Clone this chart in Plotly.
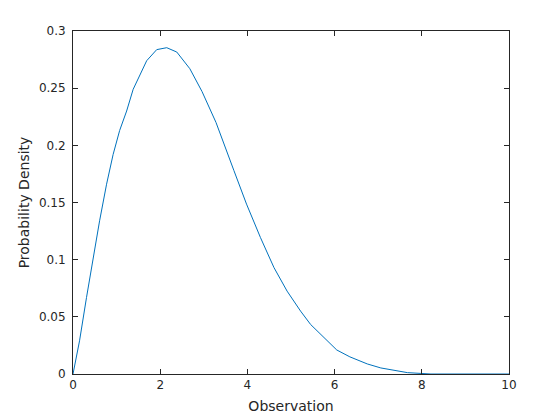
import plotly.graph_objects as go

obs = [0.0, 0.15, 0.31, 0.46, 0.61, 0.77, 0.92, 1.07, 1.23, 1.38, 1.69, 1.92, 2.15, 2.38,
       2.68, 2.96, 3.28, 3.69, 3.98, 4.30, 4.61, 4.91, 5.22, 5.45, 5.83, 6.05, 6.35,
       6.75, 7.06, 7.36, 7.67, 7.98, 8.21, 10.0]
density = [0.0, 0.029, 0.067, 0.102, 0.134, 0.166, 0.192, 0.213, 0.230, 0.249, 0.274, 0.2837,
           0.2854, 0.2816, 0.267, 0.247, 0.220, 0.178, 0.1486, 0.1193, 0.093, 0.0725, 0.055,
           0.0433, 0.0287, 0.021, 0.015, 0.0088, 0.0053, 0.003, 0.0012, 0.0005, 0.0, 0.0]

x_ticks = [0, 2, 4, 6, 8, 10]
y_ticks = [0, 0.05, 0.1, 0.15, 0.2, 0.25, 0.3]
y_labels = ["0", "0.05", "0.1", "0.15", "0.2", "0.25", "0.3"]

fig = go.Figure(go.Scatter(x=obs, y=density, mode="lines",
                           line=dict(color="#0072BD", width=1)))

axis_common = dict(showgrid=False, zeroline=False, showline=True, linecolor="#262626",
                   linewidth=1, mirror="ticks", ticks="inside", ticklen=5,
                   tickcolor="#262626", tickfont=dict(size=12, color="#262626"),
                   automargin=False)

fig.update_layout(
    width=560, height=420,
    margin=dict(l=65, r=59, t=23, b=54),
    paper_bgcolor="white", plot_bgcolor="white",
    font=dict(family="DejaVu Sans", color="#262626"),
    showlegend=False,
    xaxis=dict(range=[0, 10], tickvals=x_ticks,
               title=dict(text="Observation", font=dict(size=14), standoff=9),
               **axis_common),
    yaxis=dict(range=[0, 0.3], tickvals=y_ticks, ticktext=y_labels,
               ticklabelstandoff=4,
               title=dict(text="Probability Density", font=dict(size=14), standoff=5),
               **axis_common),
)

fig.write_html("out.html")
